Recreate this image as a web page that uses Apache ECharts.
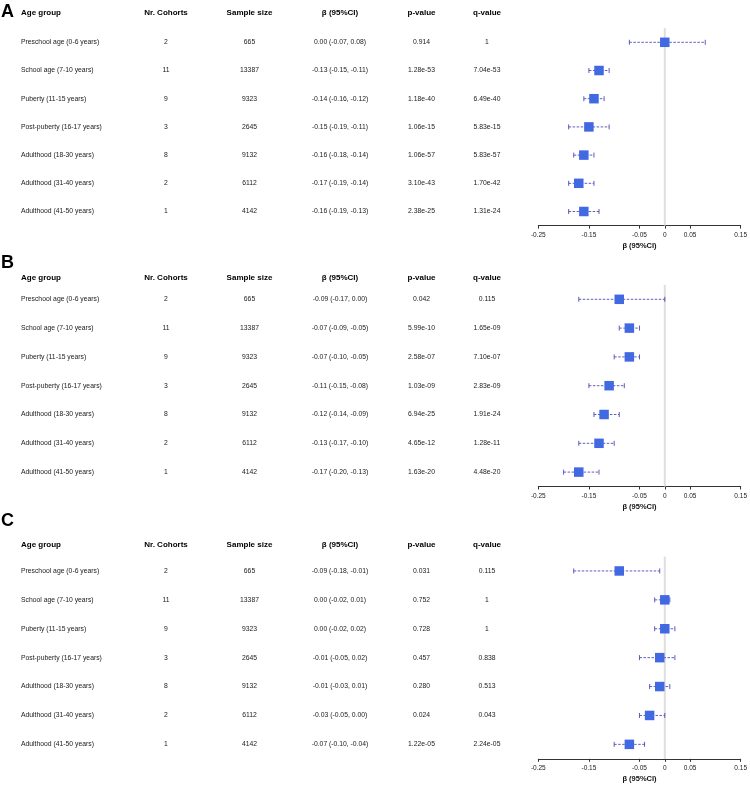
<!DOCTYPE html>
<html>
<head>
<meta charset="utf-8">
<script src="https://cdn.jsdelivr.net/npm/echarts@6/dist/echarts.min.js"></script>
<style>html,body{margin:0;padding:0;background:#fff;}#c{width:750px;height:785px;}</style>
</head>
<body>
<div id="c"></div>
<script>
// ---- data ----
const panelLetters = ['A', 'B', 'C'];
const headers = ['Age group', 'Nr. Cohorts', 'Sample size', 'β (95%CI)', 'p-value', 'q-value'];
const ageGroups = ['Preschool age (0-6 years)', 'School age (7-10 years)', 'Puberty (11-15 years)',
  'Post-puberty (16-17 years)', 'Adulthood (18-30 years)', 'Adulthood (31-40 years)', 'Adulthood (41-50 years)'];
const cohorts = [2, 11, 9, 3, 8, 2, 1];
const sampleSize = [665, 13387, 9323, 2645, 9132, 6112, 4142];

const betaA = [0.00, -0.13, -0.14, -0.15, -0.16, -0.17, -0.16];
const loA = [-0.07, -0.15, -0.16, -0.19, -0.18, -0.19, -0.19];
const hiA = [0.08, -0.11, -0.12, -0.11, -0.14, -0.14, -0.13];
const pA = ['0.914', '1.28e-53', '1.18e-40', '1.06e-15', '1.06e-57', '3.10e-43', '2.38e-25'];
const qA = ['1', '7.04e-53', '6.49e-40', '5.83e-15', '5.83e-57', '1.70e-42', '1.31e-24'];

const betaB = [-0.09, -0.07, -0.07, -0.11, -0.12, -0.13, -0.17];
const loB = [-0.17, -0.09, -0.10, -0.15, -0.14, -0.17, -0.20];
const hiB = [0.00, -0.05, -0.05, -0.08, -0.09, -0.10, -0.13];
const pB = ['0.042', '5.99e-10', '2.58e-07', '1.03e-09', '6.94e-25', '4.65e-12', '1.63e-20'];
const qB = ['0.115', '1.65e-09', '7.10e-07', '2.83e-09', '1.91e-24', '1.28e-11', '4.48e-20'];

const betaC = [-0.09, 0.00, 0.00, -0.01, -0.01, -0.03, -0.07];
const loC = [-0.18, -0.02, -0.02, -0.05, -0.03, -0.05, -0.10];
const hiC = [-0.01, 0.01, 0.02, 0.02, 0.01, 0.00, -0.04];
const pC = ['0.031', '0.752', '0.728', '0.457', '0.280', '0.024', '1.22e-05'];
const qC = ['0.115', '1', '1', '0.838', '0.513', '0.043', '2.24e-05'];

const xTicks = [-0.25, -0.15, -0.05, 0, 0.05, 0.15];
const xMin = -0.25, xMax = 0.15;
const axisTitle = 'β (95%CI)';

// ---- layout (positions/styles) ----
const panels = [
  { beta: betaA, lo: loA, hi: hiA, p: pA, q: qA, top: -2.8, rowH: 28.55, letterTop: 3, headShift: -1 },
  { beta: betaB, lo: loB, hi: hiB, p: pB, q: qB, top: 256.1, rowH: 28.8, letterTop: 254, headShift: 7 },
  { beta: betaC, lo: loC, hi: hiC, p: pC, q: qC, top: 527.6, rowH: 28.9, letterTop: 512, headShift: 3 }
];
const plotLeft = 538.3, plotWidth = 203.7;
const FONT = '"Liberation Sans", Arial, Helvetica, sans-serif';
const dataSize = 6.8, headSize = 8;
const txt = '#1a1a1a';
const colW = [109, 72, 95, 86, 77, 54];
const colAlign = ['left', 'center', 'center', 'center', 'center', 'center'];

function richStyles(shift) {
  const r = {};
  const pad = shift >= 0 ? [2 * shift, 0, 0, 0] : [0, 0, -2 * shift, 0];
  for (let k = 0; k < 6; k++) {
    r['d' + k] = { width: colW[k], align: colAlign[k], fontSize: dataSize, color: txt, fontFamily: FONT };
    r['h' + k] = { width: colW[k], align: colAlign[k], fontSize: headSize, fontWeight: 'bold', color: '#000',
      fontFamily: FONT, padding: pad };
  }
  return r;
}
const fmt = v => v.toFixed(2);

const option = {
  animation: false,
  backgroundColor: '#fff',
  textStyle: { fontFamily: FONT },
  title: [], grid: [], xAxis: [], yAxis: [], series: []
};

panels.forEach((P, i) => {
  option.title.push({
    text: panelLetters[i], left: 1, top: P.letterTop, padding: 0,
    textStyle: { fontSize: 18, fontWeight: 'bold', color: '#000', fontFamily: FONT }
  });
  option.grid.push({ left: plotLeft, width: plotWidth, top: P.top, height: P.rowH * 8 });
  option.xAxis.push({
    type: 'value', gridIndex: i, min: xMin, max: xMax,
    name: axisTitle, nameLocation: 'middle', nameGap: 16,
    nameTextStyle: { fontSize: 7.5, fontWeight: 'bold', color: '#111', fontFamily: FONT },
    axisLine: { show: true, lineStyle: { color: '#333', width: 1 } },
    axisTick: { show: true, length: 3, customValues: xTicks, lineStyle: { color: '#333' } },
    axisLabel: { customValues: xTicks, fontSize: 6.5, color: txt, margin: 6, fontFamily: FONT,
      formatter: v => String(v) },
    splitLine: { show: false }
  });
  const cats = ['hdr'].concat(ageGroups.map((_, k) => 'r' + k));
  option.yAxis.push({
    type: 'category', gridIndex: i, inverse: true, data: cats,
    axisLine: { show: false }, axisTick: { show: false }, splitLine: { show: false },
    axisLabel: {
      interval: 0, margin: 24.3, rich: richStyles(P.headShift),
      formatter: (val, idx) => {
        if (idx === 0) return headers.map((h, k) => '{h' + k + '|' + h + '}').join('');
        const r = idx - 1;
        const cells = [ageGroups[r], String(cohorts[r]), String(sampleSize[r]),
          fmt(P.beta[r]) + ' (' + fmt(P.lo[r]) + ', ' + fmt(P.hi[r]) + ')', P.p[r], P.q[r]];
        return cells.map((c, k) => '{d' + k + '|' + c + '}').join('');
      }
    }
  });
  // zero reference line
  option.series.push({
    type: 'custom', xAxisIndex: i, yAxisIndex: i, silent: true, z: 1,
    data: [[0, 1, ageGroups.length]],
    encode: { x: 0, y: [1, 2] },
    renderItem: (params, api) => {
      const a = api.coord([api.value(0), api.value(1)]);
      const b = api.coord([api.value(0), api.value(2)]);
      const h = api.size([0, 1])[1];
      return { type: 'line', shape: { x1: a[0], y1: a[1] - h / 2, x2: b[0], y2: b[1] + h / 2 },
        style: { stroke: '#dedede', lineWidth: 2 } };
    }
  });
  // CI whiskers
  option.series.push({
    type: 'custom', xAxisIndex: i, yAxisIndex: i, silent: true, z: 2,
    data: P.lo.map((l, k) => [l, P.hi[k], k + 1]),
    encode: { x: [0, 1], y: 2 },
    renderItem: (params, api) => {
      const a = api.coord([api.value(0), api.value(2)]);
      const b = api.coord([api.value(1), api.value(2)]);
      const col = '#4b4bb7';
      return { type: 'group', children: [
        { type: 'line', shape: { x1: a[0], y1: a[1], x2: b[0], y2: b[1] },
          style: { stroke: col, lineWidth: 0.9, lineDash: [2.5, 1.5] } },
        { type: 'line', shape: { x1: a[0], y1: a[1] - 2.5, x2: a[0], y2: a[1] + 2.5 },
          style: { stroke: col, lineWidth: 0.9 } },
        { type: 'line', shape: { x1: b[0], y1: b[1] - 2.5, x2: b[0], y2: b[1] + 2.5 },
          style: { stroke: col, lineWidth: 0.9 } }
      ] };
    }
  });
  // point estimates
  option.series.push({
    type: 'scatter', xAxisIndex: i, yAxisIndex: i, z: 3, silent: true,
    symbol: 'rect', symbolSize: 9.5,
    itemStyle: { color: '#4169E1', opacity: 1 },
    data: P.beta.map((b, k) => [b, k + 1])
  });
});

const chart = echarts.init(document.getElementById('c'), null, { renderer: 'canvas' });
chart.setOption(option);
</script>
</body>
</html>
